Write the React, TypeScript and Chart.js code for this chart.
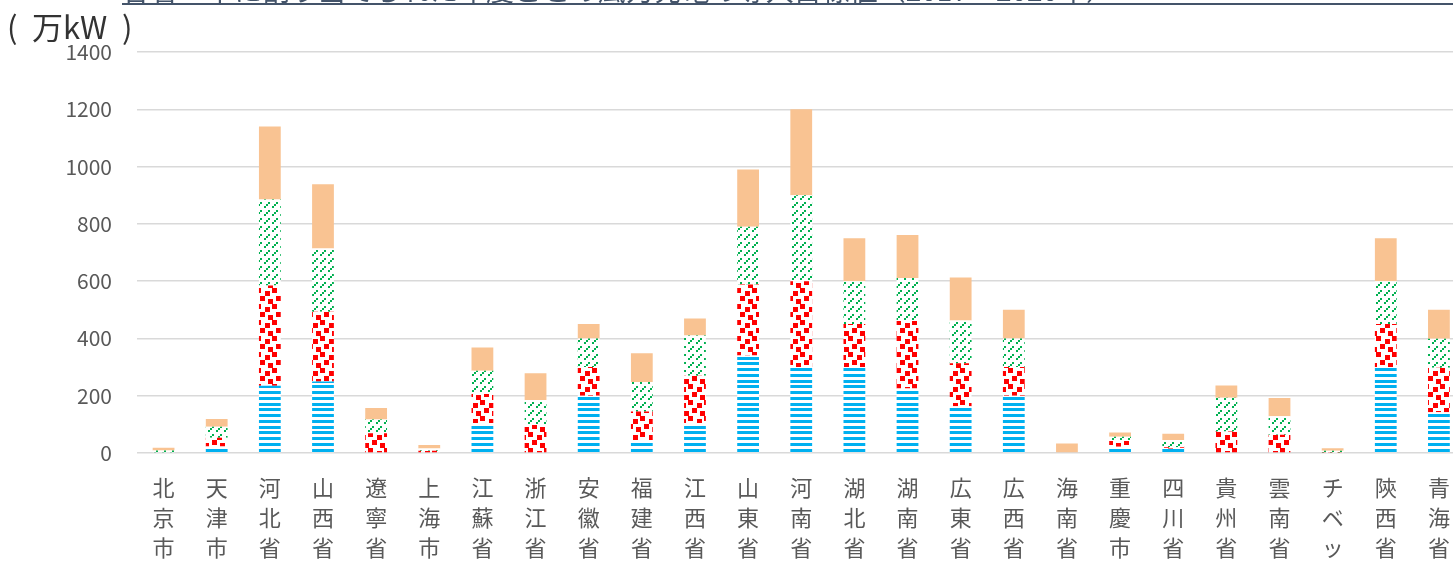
import React, { useEffect, useRef } from "react";
import { Chart, registerables } from "chart.js";

Chart.register(...registerables);

const FONT = "'Noto Sans CJK JP', 'Noto Sans', sans-serif";

const categories = [
  "北京市", "天津市", "河北省", "山西省", "遼寧省", "上海市", "江蘇省", "浙江省",
  "安徽省", "福建省", "江西省", "山東省", "河南省", "湖北省", "湖南省", "広東省",
  "広西省", "海南省", "重慶市", "四川省", "貴州省", "雲南省", "チベット", "陝西省", "青海省",
];

const seriesNames = ["2017年", "2018年", "2019年", "2020年"];

const values2017 = [0, 23, 235, 250, 0, 0, 105, 0, 200, 45, 105, 340, 300, 300, 225, 163, 200, 0, 22, 15, 3, 0, 0, 300, 142];
const values2018 = [0, 30, 350, 243, 69, 8, 101, 98, 100, 100, 165, 248, 300, 150, 236, 150, 100, 0, 20, 5, 72, 64, 2, 150, 156];
const values2019 = [9, 39, 300, 221, 48, 8, 81, 87, 100, 103, 140, 202, 300, 150, 150, 150, 100, 0, 15, 25, 118, 64, 6, 150, 101];
const values2020 = [9, 27, 255, 224, 40, 12, 81, 93, 50, 100, 60, 200, 300, 150, 150, 150, 100, 33, 15, 22, 43, 64, 9, 150, 101];

const yTicksMin = 0;
const yTicksMax = 1400;
const yTickStep = 200;

const titleText = "各省・市に割り当てられた年度ごとの風力発電の導入目標値（2017～2020年）";
const unitOpen = "(";
const unitMain = "万kW";
const unitClose = ")";

function makeTile(w: number, h: number, draw: (ctx: CanvasRenderingContext2D) => void) {
  const c = document.createElement("canvas");
  c.width = w;
  c.height = h;
  const ctx = c.getContext("2d")!;
  ctx.fillStyle = "#ffffff";
  ctx.fillRect(0, 0, w, h);
  draw(ctx);
  const probe = document.createElement("canvas").getContext("2d")!;
  return probe.createPattern(c, "repeat")!;
}

export default function App() {
  const ref = useRef<HTMLCanvasElement | null>(null);

  useEffect(() => {
    if (!ref.current) return;
    Chart.defaults.font.family = FONT;

    const bluePattern = makeTile(4, 23, (ctx) => {
      ctx.fillStyle = "#00B0F0";
      [0, 6, 12, 17].forEach((y) => ctx.fillRect(0, y, 4, 3));
    });
    const redPattern = makeTile(16, 16, (ctx) => {
      ctx.fillStyle = "#FF0000";
      [[0, 0], [9, 3], [4, 8], [12, 11]].forEach(([x, y]) => {
        ctx.fillRect(x, y, 5, 5);
        if (x + 5 > 16) ctx.fillRect(x - 16, y, 5, 5);
      });
    });
    const greenPattern = makeTile(8, 8, (ctx) => {
      ctx.fillStyle = "#00B050";
      [[0, 6], [2, 4], [4, 2]].forEach(([x, y]) => ctx.fillRect(x, y, 2, 2));
    });

    const chart = new Chart(ref.current, {
      type: "bar",
      data: {
        labels: categories.map((c) => Array.from(c)),
        datasets: [
          { label: seriesNames[0], data: values2017, backgroundColor: bluePattern as any, borderWidth: 0 },
          { label: seriesNames[1], data: values2018, backgroundColor: redPattern as any, borderWidth: 0 },
          { label: seriesNames[2], data: values2019, backgroundColor: greenPattern as any, borderWidth: 0 },
          { label: seriesNames[3], data: values2020, backgroundColor: "#F9C392", borderWidth: 0 },
        ],
      },
      options: {
        responsive: false,
        animation: false,
        datasets: { bar: { categoryPercentage: 1, barPercentage: 0.41 } },
        layout: { padding: { left: 0, top: 52, right: 4, bottom: 0 } },
        plugins: {
          legend: { display: false },
          tooltip: { enabled: false },
          title: { display: false },
        },
        scales: {
          x: {
            stacked: true,
            grid: { display: false, drawTicks: false },
            border: { display: false },
            ticks: {
              font: { family: FONT, size: 22, lineHeight: "30px" },
              color: "#595959",
              padding: 20,
              maxRotation: 0,
              minRotation: 0,
              autoSkip: false,
            },
            afterFit: (s: any) => {
              s.height = 150;
            },
          },
          y: {
            stacked: true,
            min: yTicksMin,
            max: yTicksMax,
            ticks: {
              stepSize: yTickStep,
              font: { family: FONT, size: 21 },
              color: "#595959",
              padding: 25,
              callback: (v: any) => String(v),
            },
            grid: { color: "#D9D9D9", lineWidth: 1.5, drawTicks: false },
            border: { display: false },
            afterFit: (s: any) => {
              s.width = 137;
            },
          },
        },
      },
    });
    return () => chart.destroy();
  }, []);

  const unitStyle: React.CSSProperties = {
    position: "absolute",
    top: 7,
    fontSize: 31,
    lineHeight: "38px",
    fontFamily: FONT,
    color: "#333333",
    whiteSpace: "pre",
  };

  return (
    <div
      style={{
        position: "fixed",
        left: 0,
        top: 0,
        width: 1453,
        height: 564,
        overflow: "hidden",
        background: "#ffffff",
      }}
    >
      <canvas ref={ref} width={1470} height={603} style={{ position: "absolute", left: 0, top: 0 }} />
      <div
        style={{
          position: "absolute",
          left: 122,
          top: -25,
          width: 1400,
          height: 28,
          fontSize: 28,
          fontFamily: FONT,
          color: "#44546A",
          whiteSpace: "nowrap",
          overflow: "hidden",
          borderBottom: "2px solid #44546A",
        }}
      >
        <span style={{ position: "relative", top: -6, lineHeight: "30px" }}>{titleText}</span>
      </div>
      <div style={{ ...unitStyle, left: 7 }}>{unitOpen}</div>
      <div style={{ ...unitStyle, left: 32 }}>{unitMain}</div>
      <div style={{ ...unitStyle, left: 122 }}>{unitClose}</div>
    </div>
  );
}
